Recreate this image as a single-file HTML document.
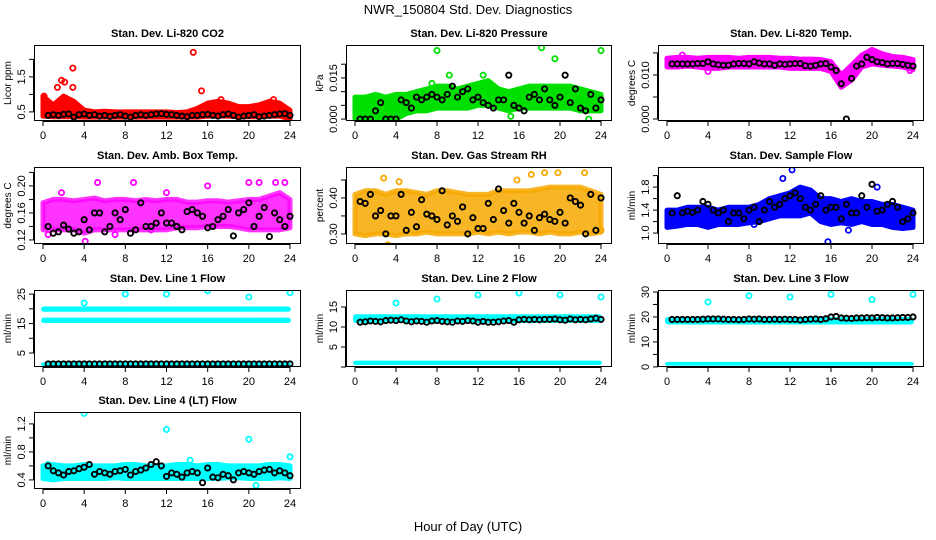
<!DOCTYPE html>
<html><head><meta charset="utf-8"><style>
body{margin:0;background:#fff;}
svg{display:block;font-family:"Liberation Sans",Arial,sans-serif;}
</style></head><body>
<svg id="chart" width="936" height="540" viewBox="0 0 936 540" xmlns="http://www.w3.org/2000/svg">
<text x="468" y="14" text-anchor="middle" font-size="13">NWR_150804  Std. Dev. Diagnostics</text>
<text x="468" y="531" text-anchor="middle" font-size="13">Hour of Day (UTC)</text>
</svg>
<script>
// hourly envelope (lo/hi) of coloured cloud, half-hour black points, outliers
const hours = [0,1,2,3,4,5,6,7,8,9,10,11,12,13,14,15,16,17,18,19,20,21,22,23,24];
const xTicks = [0,4,8,12,16,20,24];

const co2Lo = [0.38,0.36,0.36,0.36,0.35,0.35,0.35,0.35,0.35,0.35,0.35,0.35,0.35,0.35,0.35,0.35,0.38,0.38,0.38,0.36,0.36,0.36,0.38,0.38,0.30];
const co2Hi = [0.95,0.70,0.95,0.80,0.55,0.50,0.52,0.50,0.50,0.50,0.50,0.50,0.50,0.48,0.50,0.60,0.75,0.80,0.75,0.65,0.65,0.70,0.80,0.75,0.55];
const co2Black = [0.40,0.42,0.40,0.43,0.44,0.35,0.42,0.44,0.40,0.42,0.38,0.40,0.37,0.40,0.42,0.38,0.35,0.40,0.42,0.40,0.42,0.44,0.45,0.43,0.42,0.40,0.38,0.36,0.40,0.40,0.42,0.43,0.40,0.38,0.42,0.44,0.40,0.35,0.38,0.40,0.42,0.36,0.38,0.40,0.42,0.44,0.45,0.40];
const co2OutX = [1.4,1.8,2.1,2.9,2.9,14.6,15.4,17.3,22.4,0.1];
const co2OutY = [1.2,1.4,1.35,1.75,1.2,2.2,1.1,0.85,0.85,0.95];

const presLo = [0,0,0,0,0,0.002,0.003,0.003,0.004,0.004,0.004,0.004,0.005,0.005,0.004,0.003,0.004,0.004,0.004,0.004,0.004,0.004,0.003,0.003,0.003];
const presHi = [0.008,0.008,0.009,0.008,0.009,0.009,0.010,0.011,0.012,0.012,0.011,0.012,0.013,0.014,0.011,0.010,0.011,0.012,0.012,0.012,0.012,0.012,0.011,0.010,0.009];
const presBlack = [0.000,0.000,0.000,0.003,0.006,0.000,0.000,0.000,0.007,0.006,0.004,0.008,0.007,0.008,0.009,0.008,0.007,0.009,0.012,0.008,0.010,0.011,0.007,0.008,0.006,0.005,0.004,0.007,0.007,0.016,0.005,0.004,0.003,0.008,0.009,0.007,0.011,0.007,0.005,0.008,0.016,0.006,0.011,0.004,0.003,0.009,0.004,0.007];
const presOutX = [8,9.2,7.5,12.5,18.2,24,15.2,22.8,19.5,1.5];
const presOutY = [0.025,0.016,0.013,0.016,0.026,0.025,0.001,0.000,0.022,0.000];

const tempLo = [0.0118,0.0118,0.0120,0.0118,0.0115,0.0115,0.0118,0.0118,0.0118,0.0118,0.0118,0.0118,0.0115,0.0115,0.0115,0.0115,0.0108,0.0072,0.0088,0.0118,0.0125,0.0122,0.0120,0.0118,0.0112];
const tempHi = [0.0138,0.0140,0.0140,0.0138,0.0140,0.0140,0.0140,0.0138,0.0140,0.0140,0.0140,0.0138,0.0138,0.0136,0.0136,0.0135,0.0130,0.0100,0.0122,0.0145,0.0158,0.0148,0.0142,0.0140,0.0135];
const tempBlack = [0.0125,0.0125,0.0125,0.0125,0.0125,0.0126,0.0126,0.0130,0.0125,0.0123,0.0122,0.0122,0.0125,0.0126,0.0126,0.0125,0.0130,0.0127,0.0125,0.0125,0.0122,0.0125,0.0124,0.0125,0.0126,0.0126,0.0121,0.0120,0.0122,0.0125,0.0126,0.0118,0.0110,0.0080,0.0000,0.0092,0.0120,0.0125,0.0140,0.0135,0.0130,0.0128,0.0125,0.0126,0.0126,0.0124,0.0122,0.0120];
const tempOutX = [19.9,23.7,1.5,4.0];
const tempOutY = [0.0152,0.0110,0.0145,0.0108];

const ambLo = [0.135,0.135,0.135,0.135,0.130,0.135,0.135,0.135,0.135,0.135,0.135,0.135,0.135,0.138,0.138,0.138,0.140,0.140,0.140,0.138,0.135,0.135,0.135,0.135,0.138];
const ambHi = [0.175,0.180,0.180,0.178,0.180,0.182,0.178,0.180,0.180,0.178,0.180,0.178,0.180,0.180,0.176,0.176,0.178,0.178,0.176,0.178,0.180,0.180,0.185,0.190,0.180];
const ambBlack = [0.140,0.130,0.132,0.142,0.136,0.130,0.132,0.150,0.135,0.160,0.160,0.132,0.140,0.160,0.150,0.165,0.130,0.135,0.175,0.140,0.140,0.145,0.160,0.145,0.145,0.140,0.135,0.162,0.165,0.160,0.155,0.138,0.140,0.150,0.155,0.165,0.126,0.160,0.165,0.175,0.140,0.155,0.168,0.125,0.160,0.150,0.140,0.155];
const ambOutX = [4.1,15.3,5.3,8.8,12.0,1.8,0.5,16.0,20.0,21.0,22.6,23.5,10.5,7.0];
const ambOutY = [0.118,0.235,0.205,0.205,0.190,0.190,0.128,0.200,0.205,0.205,0.205,0.205,0.135,0.128];

const rhLo = [0.300,0.295,0.300,0.300,0.295,0.300,0.300,0.305,0.300,0.300,0.300,0.300,0.305,0.300,0.305,0.300,0.305,0.305,0.300,0.305,0.300,0.300,0.305,0.300,0.305];
const rhHi = [0.410,0.420,0.420,0.410,0.420,0.420,0.415,0.410,0.420,0.420,0.415,0.410,0.410,0.410,0.420,0.420,0.420,0.420,0.425,0.430,0.430,0.430,0.430,0.420,0.410];
const rhBlack = [0.390,0.385,0.410,0.350,0.365,0.300,0.350,0.350,0.410,0.310,0.360,0.320,0.395,0.355,0.350,0.340,0.420,0.325,0.350,0.335,0.375,0.300,0.345,0.315,0.315,0.385,0.340,0.425,0.365,0.330,0.385,0.360,0.330,0.350,0.310,0.345,0.355,0.340,0.335,0.360,0.330,0.400,0.390,0.380,0.300,0.410,0.310,0.400];
const rhOutX = [2.8,3.2,4.3,15.8,17.2,18.5,19.8,22.4,24.0];
const rhOutY = [0.455,0.270,0.445,0.450,0.465,0.470,0.470,0.470,0.310];

const flowLo = [1.10,1.12,1.15,1.15,1.10,1.15,1.15,1.15,1.18,1.20,1.25,1.30,1.30,1.30,1.35,1.20,1.15,1.18,1.15,1.20,1.15,1.15,1.10,1.08,1.10];
const flowHi = [1.40,1.40,1.45,1.45,1.45,1.40,1.45,1.45,1.45,1.50,1.60,1.65,1.70,1.80,1.75,1.60,1.60,1.55,1.60,1.55,1.55,1.50,1.50,1.45,1.40];
const flowBlack = [1.35,1.65,1.35,1.38,1.36,1.40,1.55,1.50,1.40,1.35,1.40,1.20,1.35,1.35,1.25,1.40,1.45,1.20,1.40,1.55,1.45,1.50,1.60,1.65,1.70,1.60,1.45,1.40,1.50,1.65,1.40,1.45,1.45,1.25,1.50,1.35,1.35,1.65,1.45,1.85,1.38,1.40,1.50,1.55,1.45,1.20,1.25,1.35];
const flowOutX = [12.2,15.7,17.7,8.5,11.3,20.5];
const flowOutY = [2.10,0.85,1.05,1.15,1.95,1.80];

const l1Lo = [19.0,15.2,0.5];
const l1Hi = [20.8,17.0,1.8];
const l1BandHours = [0,24];
const l1Black = [1.3,1.3,1.3,1.3,1.3,1.3,1.3,1.3,1.3,1.3,1.3,1.3,1.3,1.3,1.3,1.3,1.3,1.3,1.3,1.3,1.3,1.3,1.3,1.3,1.3,1.3,1.3,1.3,1.3,1.3,1.3,1.3,1.3,1.3,1.3,1.3,1.3,1.3,1.3,1.3,1.3,1.3,1.3,1.3,1.3,1.3,1.3,1.3];
const l1OutX = [4,8,12,16,20,24];
const l1OutY = [22,25,25,26.2,24,25.5];

const l2Lo = [11.0,0.5];
const l2Hi = [13.2,1.6];
const l2Black = [11.2,11.3,11.5,11.4,11.3,11.6,11.7,11.6,11.8,11.5,11.3,11.5,11.4,11.2,11.5,11.6,11.4,11.3,11.2,11.5,11.4,11.6,11.5,11.2,11.4,11.2,11.2,11.3,11.5,11.6,11.2,11.8,11.9,11.8,11.9,11.8,11.9,11.9,12.0,11.8,11.7,12.0,11.8,11.9,11.8,12.0,12.2,11.9];
const l2OutX = [4,8,12,16,20,24];
const l2OutY = [16,17,18,18.5,18,17.5];

const l3Lo = [17.0,0.5];
const l3Hi = [20.0,2.0];
const l3Black = [19.0,19.0,19.0,19.0,19.0,19.0,19.1,19.2,19.2,19.2,19.1,19.0,19.0,18.9,19.0,19.2,19.1,19.2,19.0,19.0,19.1,19.0,19.1,19.0,19.0,18.8,19.0,19.1,19.2,19.0,19.3,20.0,20.2,19.6,19.5,19.4,19.6,19.6,19.7,19.6,19.8,19.7,19.6,19.6,19.7,19.8,19.8,20.0];
const l3OutX = [4,8,12,16,20,24];
const l3OutY = [26,28.5,28,29,27,29];

const l4Lo = [0.42,0.40,0.42,0.42,0.42,0.42,0.42,0.43,0.42,0.42,0.42,0.42,0.42,0.42,0.42,0.42,0.42,0.42,0.43,0.43,0.42,0.42,0.42,0.43,0.42];
const l4Hi = [0.60,0.62,0.60,0.60,0.62,0.60,0.60,0.60,0.62,0.62,0.60,0.60,0.60,0.62,0.62,0.60,0.62,0.62,0.60,0.60,0.60,0.60,0.62,0.62,0.60];
const l4Black = [0.60,0.53,0.50,0.47,0.52,0.53,0.56,0.58,0.62,0.48,0.52,0.50,0.48,0.52,0.53,0.55,0.47,0.52,0.54,0.57,0.62,0.66,0.60,0.45,0.50,0.48,0.44,0.50,0.52,0.50,0.36,0.57,0.44,0.43,0.48,0.46,0.40,0.50,0.52,0.50,0.48,0.52,0.54,0.55,0.50,0.53,0.50,0.46];
const l4OutX = [4,12,20,24,0.5,14.3,20.7];
const l4OutY = [1.35,1.12,0.98,0.73,0.62,0.68,0.32];

const svg = document.getElementById('chart');
const NS = 'http://www.w3.org/2000/svg';
function mk(tag, attrs, parent) {
  const e = document.createElementNS(NS, tag);
  for (const k in attrs) e.setAttribute(k, attrs[k]);
  (parent || svg).appendChild(e);
  return e;
}
const cols = [[34,301],[346,612],[658,924]];
const rows = [[45,121],[167,244],[290,367],[412,489]];

const panels = [
  {key:'co2', title:'Stan. Dev. Li-820 CO2', ylab:'Licor ppm', c:0, r:0, y0:0.24, y1:2.41, ticks:[0.5,1,1.5,2], labels:['0.5','','1.5',''], color:'#ff0000', op:1, lo:co2Lo, hi:co2Hi, black:co2Black, ox:co2OutX, oy:co2OutY},
  {key:'pressure', title:'Stan. Dev. Li-820 Pressure', ylab:'kPa', c:1, r:0, y0:-0.0007, y1:0.027, ticks:[0,0.005,0.01,0.015,0.02], labels:['0.000','','','0.015',''], color:'#00e000', op:1, lo:presLo, hi:presHi, black:presBlack, ox:presOutX, oy:presOutY},
  {key:'temp', title:'Stan. Dev. Li-820 Temp.', ylab:'degrees C', c:2, r:0, y0:-0.00045, y1:0.0168, ticks:[0,0.005,0.01,0.015], labels:['0.000','','0.010',''], color:'#ff00ff', op:1, lo:tempLo, hi:tempHi, black:tempBlack, ox:tempOutX, oy:tempOutY},
  {key:'ambbox', title:'Stan. Dev. Amb. Box Temp.', ylab:'degrees C', c:0, r:1, y0:0.114, y1:0.228, ticks:[0.12,0.14,0.16,0.18,0.2,0.22], labels:['0.12','','0.16','','0.20',''], color:'#ff00ff', op:0.8, lo:ambLo, hi:ambHi, black:ambBlack, ox:ambOutX, oy:ambOutY},
  {key:'rh', title:'Stan. Dev. Gas Stream RH', ylab:'percent', c:1, r:1, y0:0.272, y1:0.486, ticks:[0.3,0.35,0.4,0.45], labels:['0.30','','0.40',''], color:'#f7a800', op:0.85, lo:rhLo, hi:rhHi, black:rhBlack, ox:rhOutX, oy:rhOutY},
  {key:'sampleflow', title:'Stan. Dev. Sample Flow', ylab:'ml/min', c:2, r:1, y0:0.81, y1:2.15, ticks:[1.0,1.2,1.4,1.6,1.8,2.0], labels:['1.0','','1.4','','1.8',''], color:'#0000ff', op:1, lo:flowLo, hi:flowHi, black:flowBlack, ox:flowOutX, oy:flowOutY},
  {key:'line1', title:'Stan. Dev. Line 1 Flow', ylab:'ml/min', c:0, r:2, y0:0.25, y1:26.4, ticks:[5,10,15,20,25], labels:['5','','15','','25'], color:'#00ffff', op:1, flatLo:l1Lo, flatHi:l1Hi, black:l1Black, ox:l1OutX, oy:l1OutY},
  {key:'line2', title:'Stan. Dev. Line 2 Flow', ylab:'ml/min', c:1, r:2, y0:0, y1:19.25, ticks:[0,5,10,15], labels:['','5','10','15'], color:'#00ffff', op:1, flatLo:l2Lo, flatHi:l2Hi, black:l2Black, ox:l2OutX, oy:l2OutY},
  {key:'line3', title:'Stan. Dev. Line 3 Flow', ylab:'ml/min', c:2, r:2, y0:-0.04, y1:30.8, ticks:[0,5,10,15,20,25,30], labels:['0','','10','','20','','30'], color:'#00ffff', op:1, flatLo:l3Lo, flatHi:l3Hi, black:l3Black, ox:l3OutX, oy:l3OutY},
  {key:'line4', title:'Stan. Dev. Line 4 (LT) Flow', ylab:'ml/min', c:0, r:3, y0:0.27, y1:1.37, ticks:[0.4,0.6,0.8,1.0,1.2], labels:['0.4','','0.8','','1.2'], color:'#00ffff', op:1, lo:l4Lo, hi:l4Hi, black:l4Black, ox:l4OutX, oy:l4OutY}
];

panels.forEach(p => {
  const L = cols[p.c][0], R = cols[p.c][1], T = rows[p.r][0], B = rows[p.r][1];
  const xs = h => L + 9 + h / 24 * (R - L - 20);
  const ys = v => B - (v - p.y0) / (p.y1 - p.y0) * (B - T);
  const g = mk('g', {});
  
  
  const clip = mk('clipPath', {id: 'clip-' + p.key}, g);
  mk('rect', {x: L, y: T, width: R - L, height: B - T}, clip);
  const plot = mk('g', {'clip-path': 'url(#clip-' + p.key + ')'}, g);
  
  
  if (p.lo) {
    let pts = hours.map((h, i) => xs(h) + ',' + ys(p.hi[i]));
    pts = pts.concat(hours.slice().reverse().map((h, j) => xs(h) + ',' + ys(p.lo[hours.length - 1 - j])));
    const band = mk('polygon', {points: pts.join(' '), fill: p.color, 'fill-opacity': p.op, stroke: p.color, 'stroke-opacity': p.op, 'stroke-width': 5, 'stroke-linejoin': 'round'}, plot);
    
    
  } else {
    p.flatLo.forEach((lo, i) => {
      const hi = p.flatHi[i];
      const band = mk('rect', {x: xs(l1BandHours[0]) - 2, y: ys(hi), width: xs(l1BandHours[1] - 0.1) - xs(l1BandHours[0]) + 4, height: Math.max(3, ys(lo) - ys(hi)), fill: p.color, rx: 3}, plot);
      
      
    });
  }
  p.ox.forEach((h, i) => {
    const c = mk('circle', {cx: xs(h), cy: ys(p.oy[i]), r: 2.6, fill: 'none', stroke: p.color, 'stroke-width': 1.8}, plot);
    
    
  });
  p.black.forEach((v, i) => {
    const c = mk('circle', {cx: xs(0.5 + 0.5 * i), cy: ys(v), r: 2.6, fill: 'none', stroke: '#000', 'stroke-width': 1.9}, plot);
    
    
  });
  const fr = mk('rect', {x: L + 0.5, y: T + 0.5, width: R - L - 1, height: B - T - 1, fill: 'none', stroke: '#000', 'stroke-width': 1}, g);
  
  
  const t = mk('text', {x: (L + R) / 2, y: T - 8, 'text-anchor': 'middle', 'font-size': 11, 'font-weight': 'bold'}, g);
  t.textContent = p.title;
  
  
  mk('line', {x1: xs(0), x2: xs(24), y1: B + 0.5, y2: B + 0.5, stroke: '#000'}, g);
  xTicks.forEach(h => {
    mk('line', {x1: xs(h), x2: xs(h), y1: B, y2: B + 5, stroke: '#000'}, g);
    const tl = mk('text', {x: xs(h), y: B + 18, 'text-anchor': 'middle', 'font-size': 11}, g);
    tl.textContent = h;
    
    
  });
  mk('line', {x1: L - 0.5, x2: L - 0.5, y1: ys(p.ticks[0]), y2: ys(p.ticks[p.ticks.length - 1]), stroke: '#000'}, g);
  p.ticks.forEach((v, i) => {
    const y = ys(v);
    if (y < T - 2 || y > B + 2) return;
    mk('line', {x1: L - 5, x2: L, y1: y, y2: y, stroke: '#000'}, g);
    if (p.labels[i]) {
      const yl = mk('text', {x: 0, y: 0, 'text-anchor': 'middle', 'font-size': 11, transform: 'translate(' + (L - 9) + ',' + y + ') rotate(-90)'}, g);
      yl.textContent = p.labels[i];
      
      
    }
  });
  const yt = mk('text', {x: 0, y: 0, 'text-anchor': 'middle', 'font-size': 10, transform: 'translate(' + (L - 23) + ',' + ((T + B) / 2) + ') rotate(-90)'}, g);
  yt.textContent = p.ylab;
  
  
});
</script>
</body></html>
